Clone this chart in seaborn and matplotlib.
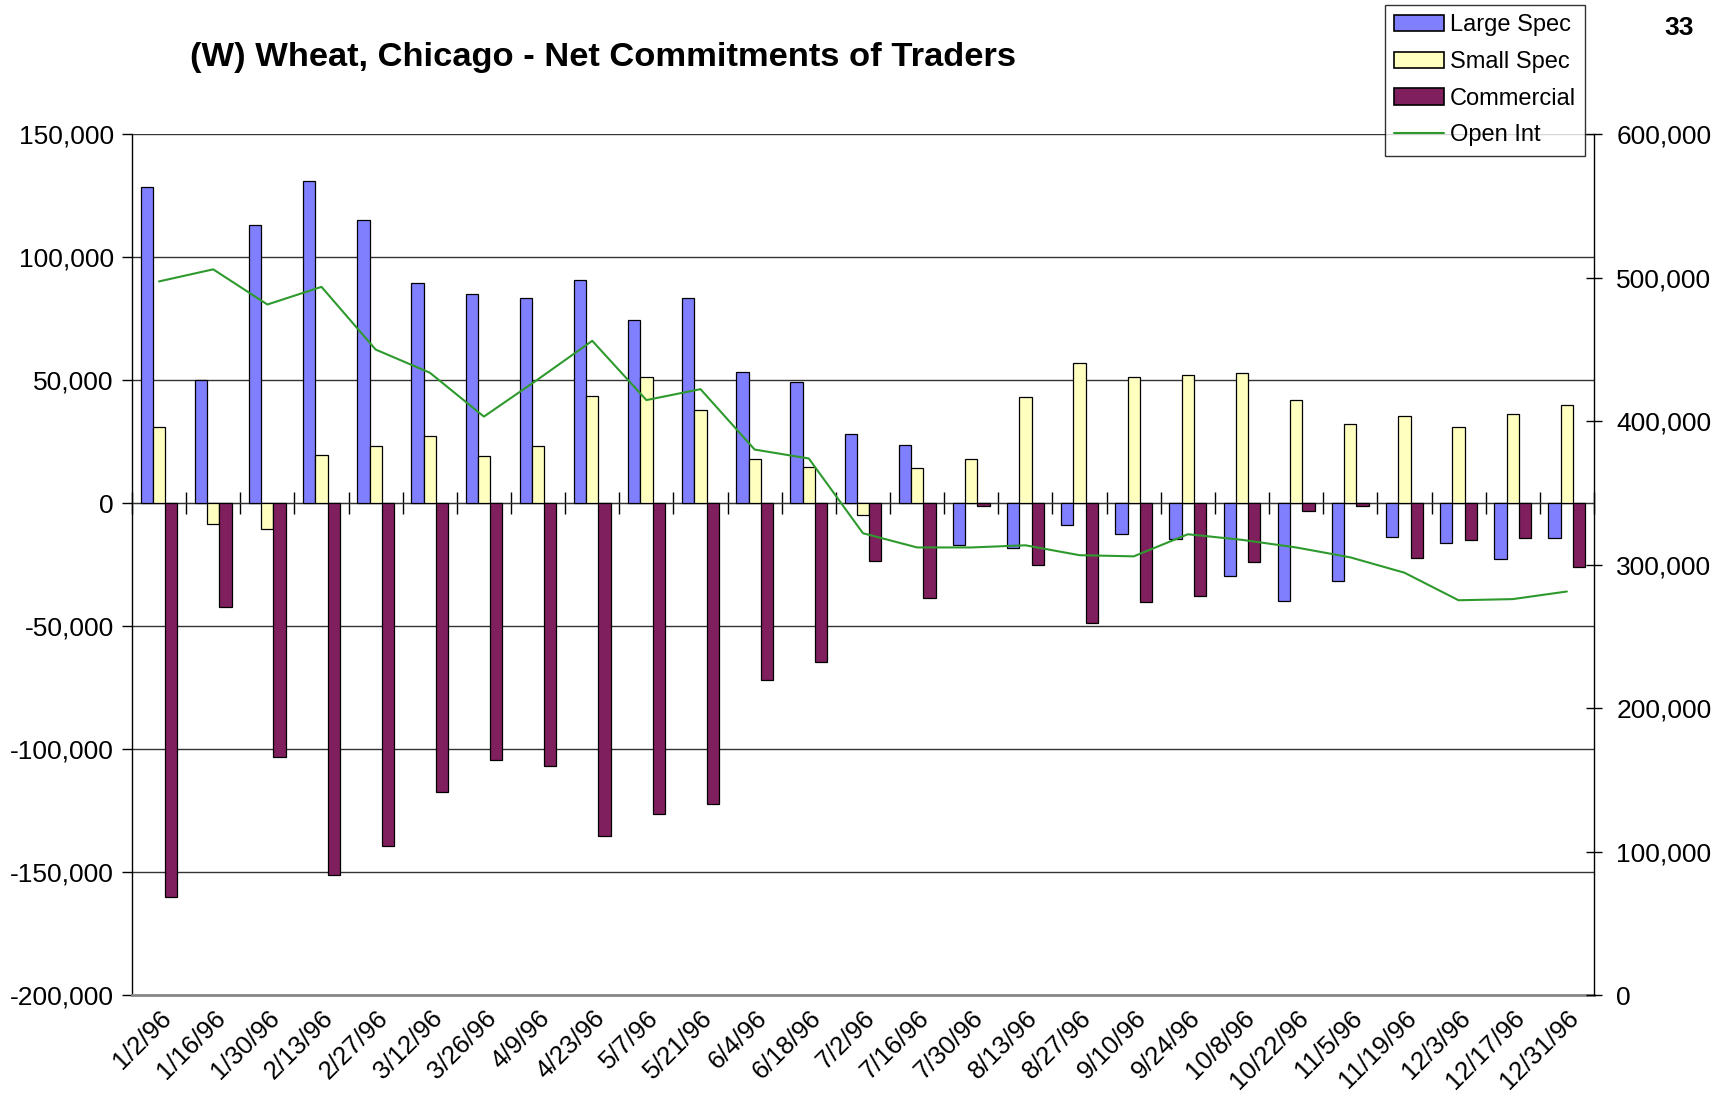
import numpy as np
import pandas as pd
import matplotlib
matplotlib.use("Agg")
import matplotlib.pyplot as plt
import seaborn as sns
from matplotlib.patches import Patch
from matplotlib.lines import Line2D
from matplotlib.ticker import FuncFormatter, MultipleLocator

dates = ["1/2/96", "1/16/96", "1/30/96", "2/13/96", "2/27/96", "3/12/96", "3/26/96",
         "4/9/96", "4/23/96", "5/7/96", "5/21/96", "6/4/96", "6/18/96", "7/2/96",
         "7/16/96", "7/30/96", "8/13/96", "8/27/96", "9/10/96", "9/24/96", "10/8/96",
         "10/22/96", "11/5/96", "11/19/96", "12/3/96", "12/17/96", "12/31/96"]

large_spec = [128600, 50000, 113000, 130800, 115000, 89300, 84800, 83500, 90600,
              74500, 83500, 53100, 49100, 28100, 23700, -17000, -18300, -8900,
              -12500, -14700, -29500, -39700, -31700, -13800, -16100, -22800, -14300]
small_spec = [30800, -8500, -10700, 19600, 23200, 27200, 19200, 23200, 43700,
              51300, 37900, 17900, 14700, -4900, 14300, 17900, 42900, 57100,
              51300, 52200, 52700, 42000, 32100, 35300, 30800, 36200, 39700]
commercial = [-160300, -42400, -103100, -151300, -139300, -117400, -104500, -107100,
              -135300, -126300, -122300, -71900, -64700, -23700, -38800, -1300,
              -25000, -48700, -40200, -37900, -24100, -3100, -1300, -22300, -15200,
              -14300, -25900]
open_int = [497300, 505700, 481200, 493500, 449800, 433700, 403100, 429100, 455900,
            414600, 422200, 380100, 373900, 321800, 311900, 311900, 313400, 306500,
            305700, 321100, 317200, 311900, 305000, 294300, 275100, 275900, 281200]

series_names = ["Large Spec", "Small Spec", "Commercial"]
bar_colors = ["#8080FF", "#FFFFC0", "#801F5E"]
line_color = "#2E9A2E"

df = pd.DataFrame({
    "date": dates * 3,
    "value": large_spec + small_spec + commercial,
    "series": [s for s in series_names for _ in dates],
})

sns.set_style("white")
plt.rcParams["font.family"] = ["Liberation Sans", "DejaVu Sans"]
plt.rcParams["text.color"] = "black"
plt.rcParams["xtick.color"] = "black"
plt.rcParams["ytick.color"] = "black"
plt.rcParams["axes.labelcolor"] = "black"

fig = plt.figure(figsize=(17.23, 11.15), dpi=100)
ax = fig.add_axes([0.0766, 0.1076, 0.8485, 0.7722])

sns.barplot(data=df, x="date", y="value", hue="series", order=dates,
            hue_order=series_names, palette=bar_colors, saturation=1,
            width=0.68, gap=0, edgecolor="black", linewidth=0.9,
            errorbar=None, legend=False, ax=ax)

n = len(dates)
ax.set_xlim(-0.5, n - 0.5)
ax.set_ylim(-200000, 150000)
ax.yaxis.set_major_locator(MultipleLocator(50000))
ax.yaxis.set_major_formatter(FuncFormatter(lambda v, p: f"{v:,.0f}"))
ax.grid(axis="y", color="#333333", linewidth=1.0)
ax.set_axisbelow(True)
ax.set_xlabel("")
ax.set_ylabel("")
ax.tick_params(axis="y", direction="out", length=7, width=1, color="black",
               labelsize=19, pad=6, left=True)
ax.tick_params(axis="x", length=0, labelsize=18.5, pad=8)
plt.setp(ax.get_xticklabels(), rotation=45, ha="right", rotation_mode="anchor")
for side in ["left", "bottom"]:
    ax.spines[side].set_color("black")
    ax.spines[side].set_linewidth(1.0)
ax.spines["bottom"].set_color("#888888")
ax.spines["bottom"].set_linewidth(2)
ax.spines["top"].set_visible(False)
ax.spines["right"].set_visible(False)

# zero line with category boundary ticks
sec = ax.secondary_xaxis(200000 / 350000)
sec.set_xticks(np.arange(n + 1) - 0.5)
sec.set_xticklabels([])
sec.tick_params(axis="x", direction="inout", length=16, width=1, color="black")
sec.spines["bottom"].set_color("black")
sec.spines["bottom"].set_linewidth(1.5)

ax2 = ax.twinx()
sns.lineplot(x=np.arange(n), y=open_int, color=line_color, linewidth=1.5, ax=ax2)
ax2.set_ylim(0, 600000)
ax2.yaxis.set_major_locator(MultipleLocator(100000))
ax2.yaxis.set_major_formatter(FuncFormatter(lambda v, p: f"{v:,.0f}"))
ax2.tick_params(axis="y", direction="inout", length=12, width=1, color="black",
                labelsize=19, pad=10, right=True)
ax2.grid(False)
for side in ["left", "top", "bottom"]:
    ax2.spines[side].set_visible(False)
ax2.spines["right"].set_color("black")
ax2.spines["right"].set_linewidth(1.0)
ax2.set_xlim(-0.5, n - 0.5)

fig.text(0.110, 0.948, "(W) Wheat, Chicago - Net Commitments of Traders",
         fontsize=24.8, fontweight="bold", ha="left", va="center")
fig.text(0.9745, 0.975, "33", fontsize=19, fontweight="bold", ha="center", va="center")

handles = [Patch(facecolor=c, edgecolor="black", linewidth=1.2) for c in bar_colors]
handles.append(Line2D([0], [0], color=line_color, linewidth=1.5))
leg = fig.legend(handles, series_names + ["Open Int"], loc="upper right",
                 bbox_to_anchor=(0.920, 0.9955), frameon=True, fancybox=False,
                 edgecolor="black", fontsize=17, handlelength=2.1, handleheight=0.7,
                 labelspacing=0.62, handletextpad=0.25, borderpad=0.4,
                 borderaxespad=0)
leg.get_frame().set_linewidth(1.0)

fig.savefig("out.png", dpi=100)
